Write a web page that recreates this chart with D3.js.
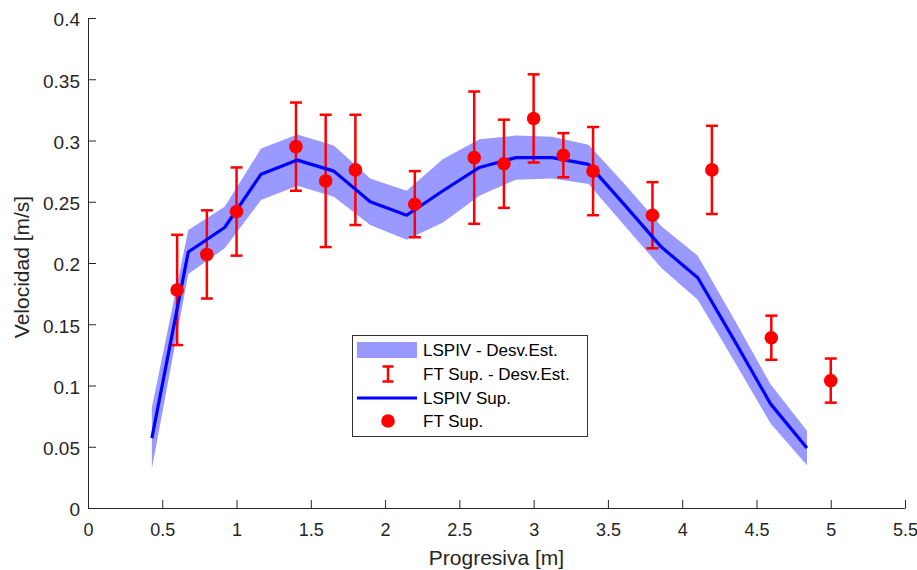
<!DOCTYPE html>
<html><head><meta charset="utf-8">
<script src="https://cdn.jsdelivr.net/npm/d3@7"></script>
<style>body{margin:0;background:#fff}svg{display:block}</style>
</head><body>
<svg id="c" width="917" height="570"></svg>
<script>
// LSPIV series
const lspivX = [0.43,0.675,0.92,1.165,1.41,1.655,1.90,2.145,2.39,2.635,2.88,3.125,3.37,3.615,3.86,4.105,4.35,4.595,4.84];
const lspivV = [0.057,0.209,0.229,0.2725,0.284,0.275,0.250,0.239,0.259,0.278,0.286,0.286,0.2805,0.247,0.213,0.188,0.137,0.085,0.049];
const lspivSD = [0.025,0.018,0.017,0.021,0.021,0.021,0.019,0.020,0.026,0.023,0.018,0.017,0.016,0.017,0.017,0.018,0.017,0.016,0.014];
// FT series
const ftX = [0.6,0.8,1.0,1.4,1.6,1.8,2.2,2.6,2.8,3.0,3.2,3.4,3.8,4.2,4.6,5.0];
const ftV = [0.178,0.207,0.242,0.295,0.267,0.276,0.248,0.286,0.281,0.318,0.288,0.275,0.239,0.276,0.139,0.104];
const ftSD = [0.045,0.036,0.036,0.036,0.054,0.045,0.027,0.054,0.036,0.036,0.018,0.036,0.027,0.036,0.018,0.018];
const xTicks = [0,0.5,1,1.5,2,2.5,3,3.5,4,4.5,5,5.5];
const yTicks = [0,0.05,0.1,0.15,0.2,0.25,0.3,0.35,0.4];
const legendLabels = ["LSPIV - Desv.Est.","FT Sup. - Desv.Est.","LSPIV Sup.","FT Sup."];

const svg = d3.select("#c");
const L=88,R=905,T=18,B=508;
const x = d3.scaleLinear().domain([0,5.5]).range([L,R]);
const y = d3.scaleLinear().domain([0,0.4]).range([B,T]);
const font = "'Liberation Sans', Arial, Helvetica, sans-serif";
const axC = "#262626";

const lsp = lspivX.map((d,i)=>({x:d,v:lspivV[i],s:lspivSD[i]}));
const ft = ftX.map((d,i)=>({x:d,v:ftV[i],s:ftSD[i]}));

// band
svg.append("path").datum(lsp)
  .attr("d", d3.area().x(d=>x(d.x)).y0(d=>y(d.v-d.s)).y1(d=>y(d.v+d.s)))
  .attr("fill","#0000ff").attr("fill-opacity",0.4);

// error bars
const eb = svg.append("g").attr("stroke","#ff0000").attr("stroke-width",2.5);
ft.forEach(d=>{
  eb.append("line").attr("x1",x(d.x)).attr("x2",x(d.x)).attr("y1",y(d.v-d.s)).attr("y2",y(d.v+d.s));
  [d.v-d.s,d.v+d.s].forEach(v=>eb.append("line").attr("x1",x(d.x)-6).attr("x2",x(d.x)+6).attr("y1",y(v)).attr("y2",y(v)));
});

// line
svg.append("path").datum(lsp)
  .attr("d", d3.line().x(d=>x(d.x)).y(d=>y(d.v)))
  .attr("fill","none").attr("stroke","#0000ff").attr("stroke-width",3.2).attr("stroke-linejoin","round");

// markers
svg.append("g").selectAll("circle").data(ft).join("circle")
  .attr("cx",d=>x(d.x)).attr("cy",d=>y(d.v)).attr("r",6.8).attr("fill","#ff0000");

// axes
const xa = svg.append("g").attr("transform",`translate(0,${B})`)
  .call(d3.axisBottom(x).tickValues(xTicks).tickFormat(d=>String(d)).tickSizeInner(-8).tickSizeOuter(0).tickPadding(15));
const ya = svg.append("g").attr("transform",`translate(${L},0)`)
  .call(d3.axisLeft(y).tickValues(yTicks).tickFormat(d=>String(d)).tickSizeInner(-8).tickSizeOuter(0).tickPadding(8));
[xa,ya].forEach(a=>{
  a.selectAll("path,line").attr("stroke",axC).attr("stroke-width",1);
  a.selectAll("text").attr("fill",axC).style("font-family",font).style("font-size","19px");
});
xa.selectAll("text").style("font-size","18px");
ya.selectAll("text").attr("dy","0.42em");

svg.append("text").attr("x",(L+R)/2).attr("y",565).attr("text-anchor","middle")
  .attr("fill",axC).style("font-family",font).style("font-size","21px").text("Progresiva [m]");
svg.append("text").attr("transform",`translate(29,${(T+B)/2+4}) rotate(-90)`).attr("text-anchor","middle")
  .attr("fill",axC).style("font-family",font).style("font-size","21px").text("Velocidad [m/s]");

// legend
const lg = svg.append("g").attr("transform","translate(352,335)");
lg.append("rect").attr("x",0.5).attr("y",0.5).attr("width",235).attr("height",101)
  .attr("fill","#fff").attr("stroke","#333").attr("stroke-width",1);
const rowY = [15,39,63,86];
lg.append("rect").attr("x",5).attr("y",rowY[0]-8).attr("width",60).attr("height",16).attr("fill","#0000ff").attr("fill-opacity",0.4);
const ex=36;
const lge = lg.append("g").attr("stroke","#ff0000").attr("stroke-width",2.5);
lge.append("line").attr("x1",ex).attr("x2",ex).attr("y1",rowY[1]-7.5).attr("y2",rowY[1]+7.5);
lge.append("line").attr("x1",ex-5.5).attr("x2",ex+5.5).attr("y1",rowY[1]-7.5).attr("y2",rowY[1]-7.5);
lge.append("line").attr("x1",ex-5.5).attr("x2",ex+5.5).attr("y1",rowY[1]+7.5).attr("y2",rowY[1]+7.5);
lg.append("line").attr("x1",5).attr("x2",65).attr("y1",rowY[2]).attr("y2",rowY[2]).attr("stroke","#0000ff").attr("stroke-width",3.2);
lg.append("circle").attr("cx",ex).attr("cy",rowY[3]).attr("r",6.8).attr("fill","#ff0000");
legendLabels.forEach((t,i)=>{
  lg.append("text").attr("x",71).attr("y",rowY[i]).attr("dy","0.36em").attr("fill","#000")
    .style("font-family",font).style("font-size","17px").text(t);
});
</script>
</body></html>
